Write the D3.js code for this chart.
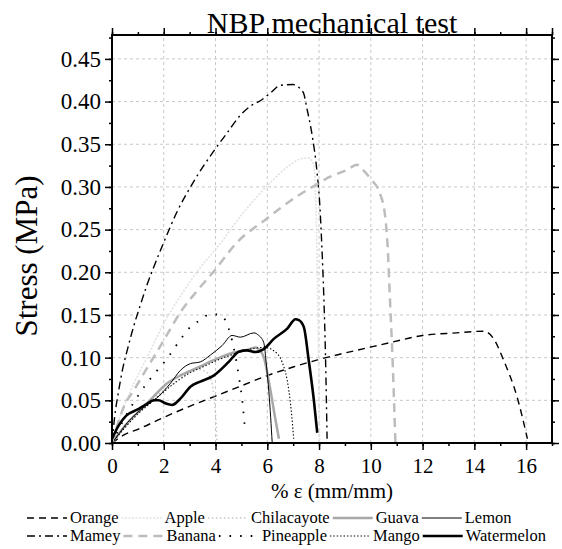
<!DOCTYPE html>
<html>
<head>
<meta charset="utf-8">
<script src="https://cdn.jsdelivr.net/npm/d3@7"></script>
<style>
  body { margin: 0; background: #fff; }
  svg, svg text { font-family: 'Liberation Serif', 'Times New Roman', serif; }
</style>
</head>
<body>
<svg id="chart" width="562" height="549"></svg>
<script>
// ---- data (strain %, stress MPa) ----
var orange = [[0,0],[0.5,0.01],[1,0.016],[2,0.03],[3,0.043],[4,0.055],[5,0.067],[6,0.079],[7,0.089],[7.66,0.095],[8.8,0.104],[9.8,0.111],[10.8,0.118],[12,0.126],[13.3,0.129],[14.35,0.131],[14.75,0.122],[15.13,0.097],[15.65,0.054],[16.05,0.005]];
var apple = [[0,0],[0.3,0.03],[0.7,0.06],[1.35,0.1],[2,0.14],[2.77,0.178],[3.4,0.205],[4.06,0.229],[5.08,0.27],[6.12,0.305],[6.8,0.324],[7.3,0.333],[7.6,0.334],[7.8,0.325],[7.9,0.25],[7.97,0.12],[8.02,0]];
var chilacayote = [[0,0],[0.5,0.02],[1,0.036],[1.5,0.05],[2,0.062],[2.5,0.073],[3,0.083],[3.3,0.086],[3.6,0.084],[3.85,0.072],[3.97,0.045],[4.03,0.02],[4.06,0]];
var guava = [[0,0],[0.5,0.02],[1,0.036],[1.5,0.051],[2.13,0.07],[2.7,0.08],[3.29,0.088],[3.93,0.097],[4.7,0.106],[5.2,0.109],[5.54,0.112],[5.67,0.11],[5.86,0.101],[6.12,0.062],[6.3,0.03],[6.45,0.005]];
var lemon = [[0,0],[0.3,0.012],[0.6,0.024],[1.2,0.041],[1.74,0.053],[2.26,0.07],[2.64,0.085],[3.03,0.093],[3.41,0.095],[3.8,0.103],[4.25,0.114],[4.64,0.126],[4.96,0.124],[5.48,0.129],[5.67,0.126],[5.86,0.118],[5.97,0.09],[6.06,0.06],[6.13,0.03],[6.19,0]];
var mamey = [[0,0],[0.1,0.03],[0.25,0.06],[0.4,0.085],[0.6,0.11],[0.85,0.138],[1.1,0.162],[1.35,0.185],[1.6,0.205],[2,0.235],[2.5,0.27],[3.15,0.306],[3.93,0.342],[4.44,0.363],[4.96,0.384],[5.41,0.396],[5.73,0.401],[6.12,0.41],[6.5,0.419],[7,0.42],[7.2,0.417],[7.4,0.41],[7.53,0.392],[7.73,0.361],[7.92,0.318],[8.02,0.283],[8.11,0.229],[8.18,0.175],[8.25,0.1],[8.31,0.005]];
var banana = [[0,0],[0.2,0.02],[0.45,0.042],[0.85,0.062],[1.3,0.085],[1.8,0.11],[2.26,0.134],[2.64,0.153],[3.28,0.178],[3.93,0.201],[4.83,0.235],[5.99,0.263],[6.5,0.275],[7.2,0.29],[7.8,0.301],[8.43,0.312],[9.08,0.32],[9.47,0.326],[9.66,0.321],[9.98,0.31],[10.37,0.291],[10.56,0.264],[10.65,0.23],[10.73,0.175],[10.85,0.09],[10.95,0]];
var pineapple = [[0,0],[0.5,0.03],[1,0.055],[1.5,0.076],[2.13,0.099],[2.71,0.124],[3.03,0.136],[3.41,0.144],[3.8,0.151],[4.19,0.15],[4.45,0.139],[4.7,0.112],[4.9,0.078],[5.05,0.045],[5.15,0.012]];
var mango = [[0,0],[0.5,0.018],[1,0.034],[1.5,0.047],[2,0.06],[2.5,0.072],[3,0.082],[3.5,0.089],[4,0.096],[4.5,0.102],[4.96,0.107],[5.5,0.111],[5.9,0.112],[6.25,0.108],[6.57,0.095],[6.83,0.062],[6.96,0.027],[7.02,0.005]];
var watermelon = [[0,0.005],[0.25,0.02],[0.55,0.032],[0.97,0.039],[1.3,0.045],[1.61,0.05],[1.8,0.05],[2.06,0.0465],[2.32,0.0446],[2.64,0.052],[3.03,0.066],[3.41,0.072],[3.93,0.079],[4.51,0.095],[4.9,0.107],[5.22,0.1085],[5.54,0.1066],[5.86,0.11],[6.25,0.122],[6.77,0.134],[7.09,0.145],[7.22,0.144],[7.41,0.136],[7.6,0.097],[7.8,0.05],[7.93,0.012]];

var seriesNames = ["Orange","Apple","Chilacayote","Guava","Lemon","Mamey","Banana","Pineapple","Mango","Watermelon"];
var seriesData = [orange, apple, chilacayote, guava, lemon, mamey, banana, pineapple, mango, watermelon];

var xTicks = [0,2,4,6,8,10,12,14,16];
var yTicks = [0,0.05,0.10,0.15,0.20,0.25,0.30,0.35,0.40,0.45];

var FONT = "'Liberation Serif', 'Times New Roman', serif";

// line styles, same order as seriesNames
var styles = [
  {color:"#000", width:1.4, dash:"7,5"},
  {color:"#e2e2e2", width:1.6, dash:"2,1.5"},
  {color:"#c4c4c4", width:1.4, dash:"1.5,2.5"},
  {color:"#a8a8a8", width:2.5, dash:null},
  {color:"#000", width:1, dash:null},
  {color:"#000", width:1.4, dash:"8,4,2,4"},
  {color:"#bdbdbd", width:2.5, dash:"9,6"},
  {color:"#000", width:1.8, dash:"1.6,9"},
  {color:"#000", width:1.1, dash:"1.4,2"},
  {color:"#000", width:2.6, dash:null}
];

var svg = d3.select("#chart");
var margin = {left:112, right:10, top:35, bottom:106};
var width = 562 - margin.left - margin.right,
    height = 549 - margin.top - margin.bottom;

var x = d3.scaleLinear().domain([0,17]).range([margin.left, margin.left + width]);
var y = d3.scaleLinear().domain([0,0.478]).range([margin.top + height, margin.top]);

// grid
var grid = svg.append("g").attr("stroke","#c8c8c8").attr("stroke-width",1).attr("stroke-dasharray","3,3");
grid.selectAll(".gx").data(xTicks.slice(1)).enter().append("line")
  .attr("x1", d => x(d)).attr("x2", d => x(d))
  .attr("y1", y(0)).attr("y2", y.range()[1]);
grid.selectAll(".gy").data(yTicks.slice(1)).enter().append("line")
  .attr("y1", d => y(d)).attr("y2", d => y(d))
  .attr("x1", x(0)).attr("x2", x.range()[1]);

// curves
var line = d3.line().x(d => x(d[0])).y(d => y(d[1])).curve(d3.curveMonotoneX);
seriesData.forEach(function(s, i) {
  var st = styles[i];
  svg.append("path")
    .datum(s)
    .attr("d", line)
    .attr("fill","none")
    .attr("stroke", st.color)
    .attr("stroke-width", st.width)
    .attr("stroke-dasharray", st.dash);
});

// axes
var xMinor = d3.range(0,18,1), yMinor = d3.range(0,0.476,0.025);
function styleAxis(g) {
  g.attr("font-family", FONT);
  g.select(".domain").remove();
  g.selectAll(".tick line").attr("stroke","#000").attr("stroke-width",1.5);
}
svg.append("g").attr("transform","translate(0," + y(0) + ")")
  .call(d3.axisBottom(x).tickValues(xMinor).tickSize(3).tickFormat("")).call(styleAxis);
svg.append("g").attr("transform","translate(0," + y.range()[1] + ")")
  .call(d3.axisTop(x).tickValues(xMinor).tickSize(3).tickFormat("")).call(styleAxis);
svg.append("g").attr("transform","translate(" + x(0) + ",0)")
  .call(d3.axisLeft(y).tickValues(yMinor).tickSize(3).tickFormat("")).call(styleAxis);
svg.append("g").attr("transform","translate(" + x.range()[1] + ",0)")
  .call(d3.axisRight(y).tickValues(yMinor).tickSize(3).tickFormat("")).call(styleAxis);

var xAxis = svg.append("g").attr("transform","translate(0," + y(0) + ")")
  .call(d3.axisBottom(x).tickValues(xTicks).tickSize(7).tickPadding(8).tickFormat(d3.format("d")));
xAxis.call(styleAxis).attr("font-size",21);
xAxis.selectAll("text").attr("fill","#000");

svg.append("g").attr("transform","translate(0," + y.range()[1] + ")")
  .call(d3.axisTop(x).tickValues(xTicks.concat([17])).tickSize(7).tickFormat("")).call(styleAxis);

var yAxis = svg.append("g").attr("transform","translate(" + x(0) + ",0)")
  .call(d3.axisLeft(y).tickValues(yTicks).tickSize(7).tickPadding(4).tickFormat(d3.format(".2f")));
yAxis.call(styleAxis).attr("font-size",23);
yAxis.selectAll("text").attr("fill","#000");

svg.append("g").attr("transform","translate(" + x.range()[1] + ",0)")
  .call(d3.axisRight(y).tickValues(yTicks).tickSize(7).tickFormat("")).call(styleAxis);

// frame
svg.append("rect")
  .attr("x", x(0)).attr("y", y.range()[1])
  .attr("width", width).attr("height", height)
  .attr("fill","none").attr("stroke","#000").attr("stroke-width",2);

// titles
svg.append("text").attr("x", x(8.5)).attr("y", 33).attr("text-anchor","middle")
  .attr("font-family", FONT).attr("font-size",30).text("NBP mechanical test");
svg.append("text").attr("x", x(8.5)).attr("y", 498).attr("text-anchor","middle")
  .attr("font-family", FONT).attr("font-size",21).text("% ε (mm/mm)");
svg.append("text").attr("transform","translate(37,256) rotate(-90)").attr("text-anchor","middle")
  .attr("font-family", FONT).attr("font-size",31).text("Stress (MPa)");

// legend: two rows, flowing left to right
var legendRows = [523, 541];
var cursor = 27, row = 0;
seriesNames.forEach(function(name, i) {
  if (i == 5) { cursor = 27; row = 1; }
  var st = styles[i], base = legendRows[row];
  svg.append("line")
    .attr("x1", cursor).attr("x2", cursor + 40)
    .attr("y1", base - 5).attr("y2", base - 5)
    .attr("stroke", st.color).attr("stroke-width", st.width)
    .attr("stroke-dasharray", st.dash);
  var t = svg.append("text").attr("x", cursor + 43).attr("y", base)
    .attr("font-family", FONT).attr("font-size",16.5).text(name);
  cursor = cursor + 43 + t.node().getComputedTextLength() + 3;
});
</script>
</body>
</html>
